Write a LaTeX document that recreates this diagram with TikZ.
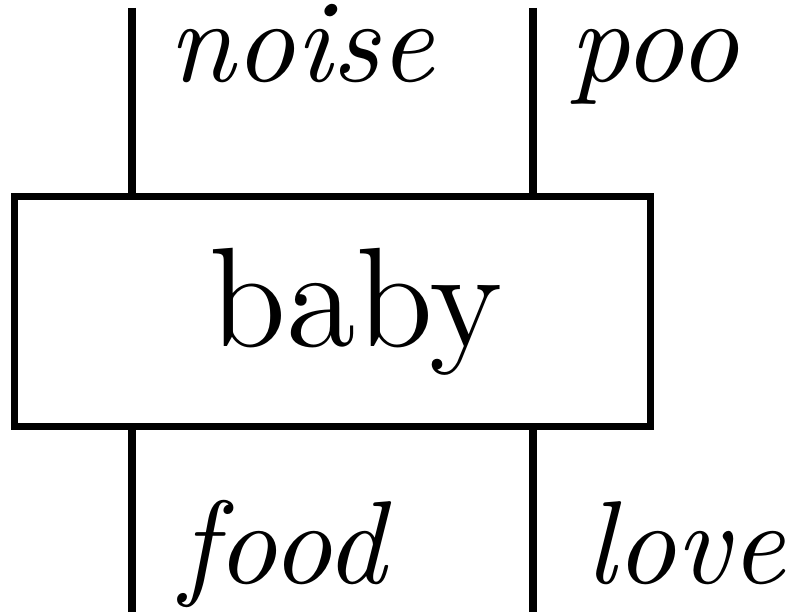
\documentclass[tikz,border=0pt]{standalone}
\begin{document}
\begin{tikzpicture}[x=0.0847pt,y=-0.0847pt,
  wire/.style={line width=0.6pt},
  boxnode/.style={draw,line width=0.6pt,rectangle,minimum width=53.87pt,minimum height=19.48pt,inner sep=0pt,font=\fontsize{12}{14}\selectfont},
  lab/.style={anchor=base west,inner sep=0pt,font=\itshape}]
\useasboundingbox (0,0) rectangle (795,612);
\node[boxnode] (baby) at (332.5,311.6) {\hspace*{4pt}baby};
\coordinate (t1) at (132,8);
\coordinate (t2) at (533,8);
\coordinate (b1) at (132,612);
\coordinate (b2) at (533,612);
\draw[wire] (t1) -- (t1 |- baby.north);
\draw[wire] (t2) -- (t2 |- baby.north);
\draw[wire] (b1) -- (b1 |- baby.south);
\draw[wire] (b2) -- (b2 |- baby.south);
\node[lab] (noise) at (166,82) {noise};
\node[lab] (poo) at (567,82) {poo};
\node[lab] (food) at (178,584) {food};
\node[lab] (love) at (583,584) {love};
\end{tikzpicture}
\end{document}
